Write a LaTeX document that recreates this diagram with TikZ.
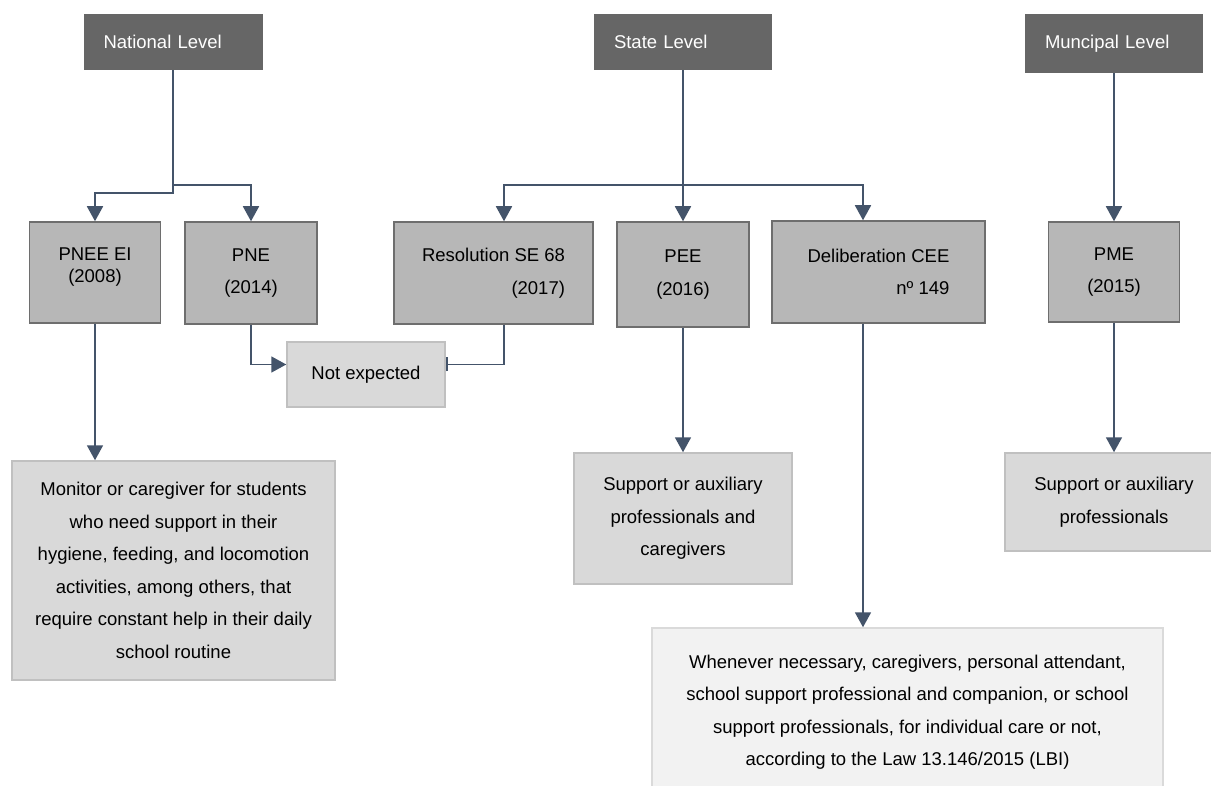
\documentclass[tikz,border=0pt]{standalone}
\usepackage{fontspec}
\setmainfont{Liberation Sans}
\usetikzlibrary{arrows.meta}
\definecolor{headgray}{HTML}{666666}
\definecolor{midgray}{HTML}{B7B7B7}
\definecolor{midborder}{HTML}{6E6E6E}
\definecolor{outgray}{HTML}{D9D9D9}
\definecolor{outborder}{HTML}{C0C0C0}
\definecolor{biggray}{HTML}{F2F2F2}
\definecolor{bigborder}{HTML}{DADADA}
\definecolor{arrowblue}{HTML}{44546A}
\begin{document}
\begin{tikzpicture}[x=1pt,y=-1pt,
  every node/.style={font=\fontsize{18.5}{32.5}\selectfont, inner sep=0pt},
  headbox/.style={fill=headgray, text=white, align=left, inner xsep=20pt, minimum height=56pt},
  midbox/.style={fill=midgray, draw=midborder, line width=1.5pt, align=center},
  outbox/.style={fill=outgray, draw=outborder, line width=1.5pt, align=center},
  bigbox/.style={fill=biggray, draw=bigborder, line width=1.5pt, align=center},
  conn/.style={draw=arrowblue, line width=1.8pt},
  arr/.style={conn, -{Triangle[length=15pt,width=16pt]}},
  barend/.style={conn, -{Bar[width=14pt,line width=2.5pt]}},
]
\fill[white] (0,0) rectangle (1211,786);
\useasboundingbox (0,0) rectangle (1211,786);

% level headers
\node[headbox, text width=139pt] (nat) at (173,42) {National Level};
\node[headbox, text width=138pt] (state) at (683,42) {State Level};
\node[headbox, text width=138pt, minimum height=59pt] (mun) at (1114,43.5) {Muncipal Level};

% documents
\node[midbox, minimum width=131pt, minimum height=101pt] (pnee) at (95,272.5) {PNEE EI\\[-10.5pt](2008)\\[-17pt]\mbox{}};
\node[midbox, minimum width=132pt, minimum height=102pt] (pne) at (251,273) {PNE\\(2014)};
\node[midbox, minimum width=199pt, minimum height=102pt, align=right] (res) at (493.5,273) {Resolution SE 68\\(2017)};
\node[midbox, minimum width=132pt, minimum height=105pt] (pee) at (683,274.5) {PEE\\(2016)};
\node[midbox, minimum width=213pt, minimum height=102pt, align=right] (delib) at (878.5,272) {Deliberation CEE\\nº 149};
\node[midbox, minimum width=131pt, minimum height=100pt] (pme) at (1114,272) {PME\\(2015)};

% outcomes
\node[outbox, minimum width=158pt, minimum height=65pt] (notexp) at (366,374.5) {Not expected};
\node[outbox, minimum width=323pt, minimum height=219pt] (mon) at (173.5,570.5) {Monitor or caregiver for students\\who need support in their\\hygiene, feeding, and locomotion\\activities, among others, that\\require constant help in their daily\\school routine};
\node[outbox, minimum width=218pt, minimum height=131pt] (sup1) at (683,518.5) {Support or auxiliary\\professionals and\\caregivers};
\node[outbox, minimum width=218pt, minimum height=98pt] (sup2) at (1114,502) {Support or auxiliary\\professionals};
\node[bigbox, minimum width=511pt, minimum height=168pt] (big) at (907.5,712) {Whenever necessary, caregivers, personal attendant,\\school support professional and companion, or school\\support professionals, for individual care or not,\\according to the Law 13.146/2015 (LBI)};

% connectors
\draw[arr] (nat.south) -- ++(0,122.5) -| (pnee.north);
\draw[arr] (nat.south) -- ++(0,115) -| (pne.north);
\draw[arr] (state.south) -- (pee.north);
\draw[arr] (state.south) ++(0,115) -| ([xshift=10.5pt]res.north);
\draw[arr] (state.south) ++(0,115) -| ([xshift=-15.5pt]delib.north);
\draw[arr] (mun.south) -- (pme.north);
\draw[arr] (pnee.south) -- (pnee.south |- mon.north);
\draw[arr] (pne.south) |- ([yshift=10pt]notexp.west);
\draw[barend] ([xshift=10.5pt]res.south) |- ([yshift=10pt]notexp.east);
\draw[arr] (pee.south) -- (sup1.north);
\draw[arr] ([xshift=-15.5pt]delib.south) -- ([xshift=-15.5pt]delib.south |- big.north);
\draw[arr] (pme.south) -- (sup2.north);
\end{tikzpicture}
\end{document}
